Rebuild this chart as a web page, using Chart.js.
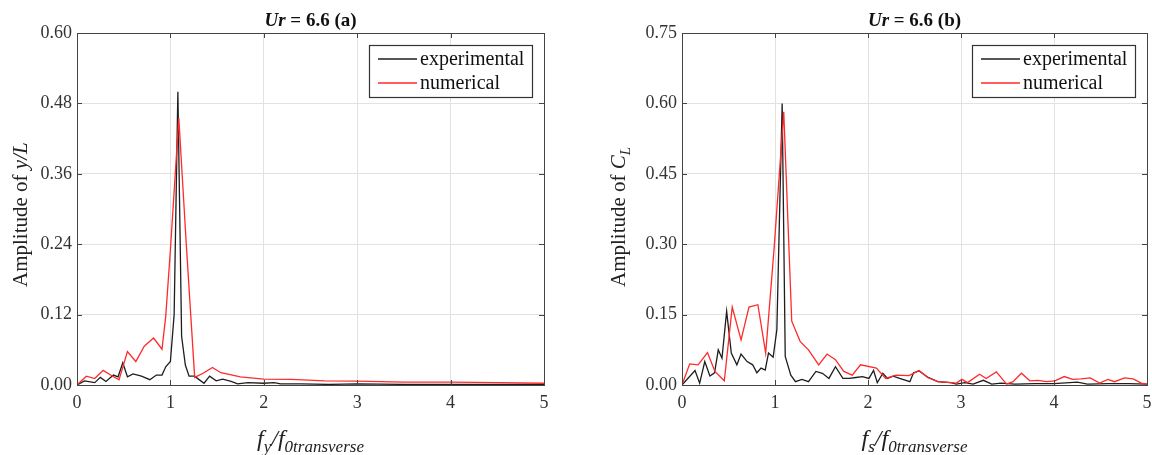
<!DOCTYPE html>
<html><head><meta charset="utf-8">
<script src="https://cdn.jsdelivr.net/npm/chart.js@4.4.1/dist/chart.umd.min.js"></script>
<style>
html,body{margin:0;padding:0;background:#fff;width:1152px;height:455px;overflow:hidden}
.wrap{position:absolute;top:0;width:576px;height:455px}
canvas{display:block}
</style></head><body>
<div class="wrap" style="left:0"><canvas id="cA" width="576" height="455"></canvas></div>
<div class="wrap" style="left:576px"><canvas id="cB" width="576" height="455"></canvas></div>
<script>
// ---------- data ----------
const seriesNames = ["experimental", "numerical"];
const xTickValues = [0, 1, 2, 3, 4, 5];

// (a) displacement amplitude y/L
const freqExpA = [0,0.08,0.19,0.25,0.31,0.39,0.44,0.49,0.54,0.60,0.69,0.78,0.85,0.91,0.95,1.00,1.04,1.08,1.12,1.16,1.20,1.26,1.30,1.36,1.42,1.49,1.56,1.65,1.72,1.83,2.00,2.11,2.18,2.4,2.7,3.0,3.5,4.0,4.5,5.0];
const ampExpA  = [0,0.007,0.004,0.013,0.006,0.017,0.014,0.038,0.014,0.019,0.015,0.009,0.017,0.017,0.031,0.040,0.12,0.50,0.083,0.034,0.015,0.015,0.010,0.003,0.015,0.007,0.010,0.006,0.002,0.004,0.003,0.004,0.002,0.002,0.001,0.002,0.001,0.001,0.001,0.001];
const freqNumA = [0,0.10,0.19,0.28,0.36,0.45,0.54,0.63,0.72,0.82,0.91,0.95,1.00,1.09,1.17,1.26,1.35,1.45,1.54,1.75,2.0,2.3,2.65,3.0,3.5,4.0,4.5,5.0];
const ampNumA  = [0,0.015,0.011,0.025,0.017,0.009,0.057,0.040,0.066,0.080,0.061,0.117,0.23,0.455,0.24,0.013,0.020,0.030,0.021,0.014,0.010,0.0095,0.007,0.0065,0.005,0.005,0.004,0.003];
const yTicksA = [0, 0.12, 0.24, 0.36, 0.48, 0.60];

// (b) lift coefficient amplitude C_L
const freqExpB = [0,0.14,0.19,0.245,0.30,0.35,0.39,0.43,0.48,0.53,0.59,0.635,0.70,0.76,0.805,0.85,0.895,0.93,0.98,1.02,1.077,1.11,1.17,1.22,1.29,1.36,1.44,1.51,1.58,1.65,1.73,1.80,1.87,1.94,2.01,2.06,2.10,2.16,2.21,2.27,2.34,2.45,2.49,2.55,2.64,2.75,2.89,2.95,3.04,3.13,3.24,3.33,3.43,3.58,3.79,4.0,4.25,4.36,4.58,4.8,5.0];
const ampExpB  = [0,0.031,0.004,0.050,0.019,0.026,0.075,0.057,0.157,0.068,0.043,0.066,0.050,0.043,0.026,0.036,0.032,0.068,0.059,0.118,0.60,0.061,0.021,0.007,0.012,0.007,0.029,0.025,0.014,0.039,0.014,0.014,0.016,0.018,0.014,0.031,0.005,0.025,0.014,0.019,0.014,0.007,0.026,0.030,0.017,0.007,0.005,0.002,0.005,0.002,0.010,0.002,0.004,0.002,0.003,0.003,0.006,0.002,0.003,0.003,0.002];
const freqNumB = [0,0.083,0.173,0.274,0.354,0.455,0.54,0.635,0.72,0.816,0.90,0.99,1.094,1.18,1.27,1.36,1.47,1.56,1.65,1.74,1.83,1.92,2.09,2.19,2.30,2.44,2.55,2.64,2.75,2.89,2.95,3.01,3.07,3.20,3.27,3.38,3.49,3.56,3.65,3.74,3.83,3.92,4.01,4.11,4.20,4.29,4.39,4.49,4.58,4.65,4.76,4.85,4.94,5.0];
const ampNumB  = [0,0.045,0.043,0.069,0.029,0.009,0.166,0.096,0.166,0.171,0.068,0.29,0.582,0.136,0.093,0.075,0.043,0.066,0.054,0.029,0.021,0.043,0.036,0.014,0.021,0.020,0.031,0.016,0.007,0.005,0.004,0.012,0.005,0.023,0.014,0.028,0.002,0.007,0.025,0.009,0.010,0.007,0.009,0.018,0.012,0.013,0.015,0.004,0.012,0.007,0.015,0.013,0.004,0.002];
const yTicksB = [0, 0.15, 0.30, 0.45, 0.60, 0.75];

// ---------- styling / helpers ----------
const SERIF = '"Liberation Serif","Times New Roman",serif';
const COL_EXP = '#1e1e1e';
const COL_NUM = '#ff2a2a';

function zip(xs, ys){ const n=Math.min(xs.length, ys.length); const o=[]; for(let i=0;i<n;i++) o.push({x:xs[i], y:ys[i]}); return o; }

function richWidth(ctx, parts){ let w=0; for(const p of parts){ ctx.font=p.f; w+=ctx.measureText(p.t).width; } return w; }
function drawRich(ctx, parts, x, y, align){
  const w = richWidth(ctx, parts);
  let cx = align==='start' ? x : x - w/2;
  ctx.textAlign='left'; ctx.textBaseline='alphabetic';
  for(const p of parts){ ctx.font=p.f; ctx.fillText(p.t, cx, y + (p.dy||0)); cx += ctx.measureText(p.t).width; }
}

function makeDecor(cfg){
  return {
    id: 'decor',
    afterDraw(chart){
      const ctx = chart.ctx, a = chart.chartArea;
      const xs = chart.scales.x, ys = chart.scales.y;
      ctx.save();
      // frame
      ctx.strokeStyle = '#444'; ctx.lineWidth = 1;
      ctx.strokeRect(Math.round(a.left)+0.5, Math.round(a.top)+0.5, Math.round(a.right-a.left), Math.round(a.bottom-a.top));
      // inward ticks
      ctx.beginPath();
      xs.ticks.forEach(t=>{ const px=Math.round(xs.getPixelForValue(t.value))+0.5;
        ctx.moveTo(px,a.bottom); ctx.lineTo(px,a.bottom-5); ctx.moveTo(px,a.top); ctx.lineTo(px,a.top+5); });
      ys.ticks.forEach(t=>{ const py=Math.round(ys.getPixelForValue(t.value))+0.5;
        ctx.moveTo(a.left,py); ctx.lineTo(a.left+5,py); ctx.moveTo(a.right,py); ctx.lineTo(a.right-5,py); });
      ctx.stroke();
      // legend
      const bw=163, bh=52, bx=a.right-12-bw, by=a.top+12;
      ctx.fillStyle='#fff'; ctx.fillRect(bx,by,bw,bh);
      ctx.strokeStyle='#333'; ctx.lineWidth=1.2; ctx.strokeRect(bx+0.5,by+0.5,bw,bh);
      chart.data.datasets.forEach((ds,i)=>{
        const ly = by + 14 + i*24;
        ctx.strokeStyle = ds.borderColor; ctx.lineWidth = 1.4;
        ctx.beginPath(); ctx.moveTo(bx+9, ly); ctx.lineTo(bx+48, ly); ctx.stroke();
        ctx.fillStyle = '#111';
        ctx.font = '20px '+SERIF; ctx.textAlign='left'; ctx.textBaseline='alphabetic';
        ctx.fillText(ds.label, bx+51, ly+6);
      });
      // title
      ctx.fillStyle = '#111';
      const cxm = (a.left+a.right)/2;
      drawRich(ctx, [{t:'Ur', f:'italic bold 19px '+SERIF},{t:' = 6.6 '+cfg.tag, f:'bold 19px '+SERIF}], cxm, 26);
      // x label
      ctx.fillStyle = '#222';
      drawRich(ctx, [
        {t:'f', f:'italic 24px '+SERIF},
        {t:cfg.xsub, f:'italic 17px '+SERIF, dy:6},
        {t:'/f', f:'italic 24px '+SERIF},
        {t:'0transverse', f:'italic 17px '+SERIF, dy:6}
      ], cxm, 446);
      // y label (rotated)
      ctx.save();
      ctx.translate(cfg.ylabX, 287);
      ctx.rotate(-Math.PI/2);
      drawRich(ctx, cfg.ylabel, 0, 0, 'start');
      ctx.restore();
      ctx.restore();
    }
  };
}

function makeChart(id, expX, expY, numX, numY, yTicks, cfg){
  const yMax = yTicks[yTicks.length-1];
  return new Chart(document.getElementById(id), {
    type: 'line',
    data: { datasets: [
      { label: seriesNames[0], data: zip(expX, expY), borderColor: COL_EXP, borderWidth: 1.3, pointRadius: 0, tension: 0, order: 1 },
      { label: seriesNames[1], data: zip(numX, numY), borderColor: COL_NUM, borderWidth: 1.3, pointRadius: 0, tension: 0, order: 0 }
    ]},
    options: {
      responsive: false, animation: false, devicePixelRatio: 1,
      layout: { padding: { left: 0, right: cfg.padRight, top: 33, bottom: 0 } },
      plugins: { legend: { display: false }, tooltip: { enabled: false }, title: { display: false } },
      scales: {
        x: { type: 'linear', min: 0, max: 5,
             afterBuildTicks(s){ s.ticks = xTickValues.map(v=>({value:v})); },
             afterFit(s){ s.height = 70; s.paddingLeft = 0; s.paddingRight = 0; },
             grid: { color: '#e2e2e2', drawTicks: false, lineWidth: 1 },
             border: { display: false },
             ticks: { padding: 7, color: '#333', font: { family: SERIF, size: 18 }, callback: v => String(v) } },
        y: { type: 'linear', min: 0, max: yMax,
             afterBuildTicks(s){ s.ticks = yTicks.map(v=>({value:v})); },
             afterFit(s){ s.width = cfg.yWidth; s.paddingTop = 0; s.paddingBottom = 0; },
             grid: { color: '#e2e2e2', drawTicks: false, lineWidth: 1 },
             border: { display: false },
             ticks: { padding: 5, color: '#333', font: { family: SERIF, size: 18 }, callback: v => Number(v).toFixed(2) } }
      }
    },
    plugins: [makeDecor(cfg)]
  });
}

makeChart('cA', freqExpA, ampExpA, freqNumA, ampNumA, yTicksA, {
  tag: '(a)', xsub: 'y', ylabX: 27, yWidth: 77, padRight: 32,
  ylabel: [{t:'Amplitude of ', f:'21px '+SERIF}, {t:'y/L', f:'italic 21px '+SERIF}]
});
makeChart('cB', freqExpB, ampExpB, freqNumB, ampNumB, yTicksB, {
  tag: '(b)', xsub: 's', ylabX: 49, yWidth: 106, padRight: 5,
  ylabel: [{t:'Amplitude of ', f:'21px '+SERIF}, {t:'C', f:'italic 21px '+SERIF}, {t:'L', f:'italic 15px '+SERIF, dy:5}]
});
</script>
</body></html>
